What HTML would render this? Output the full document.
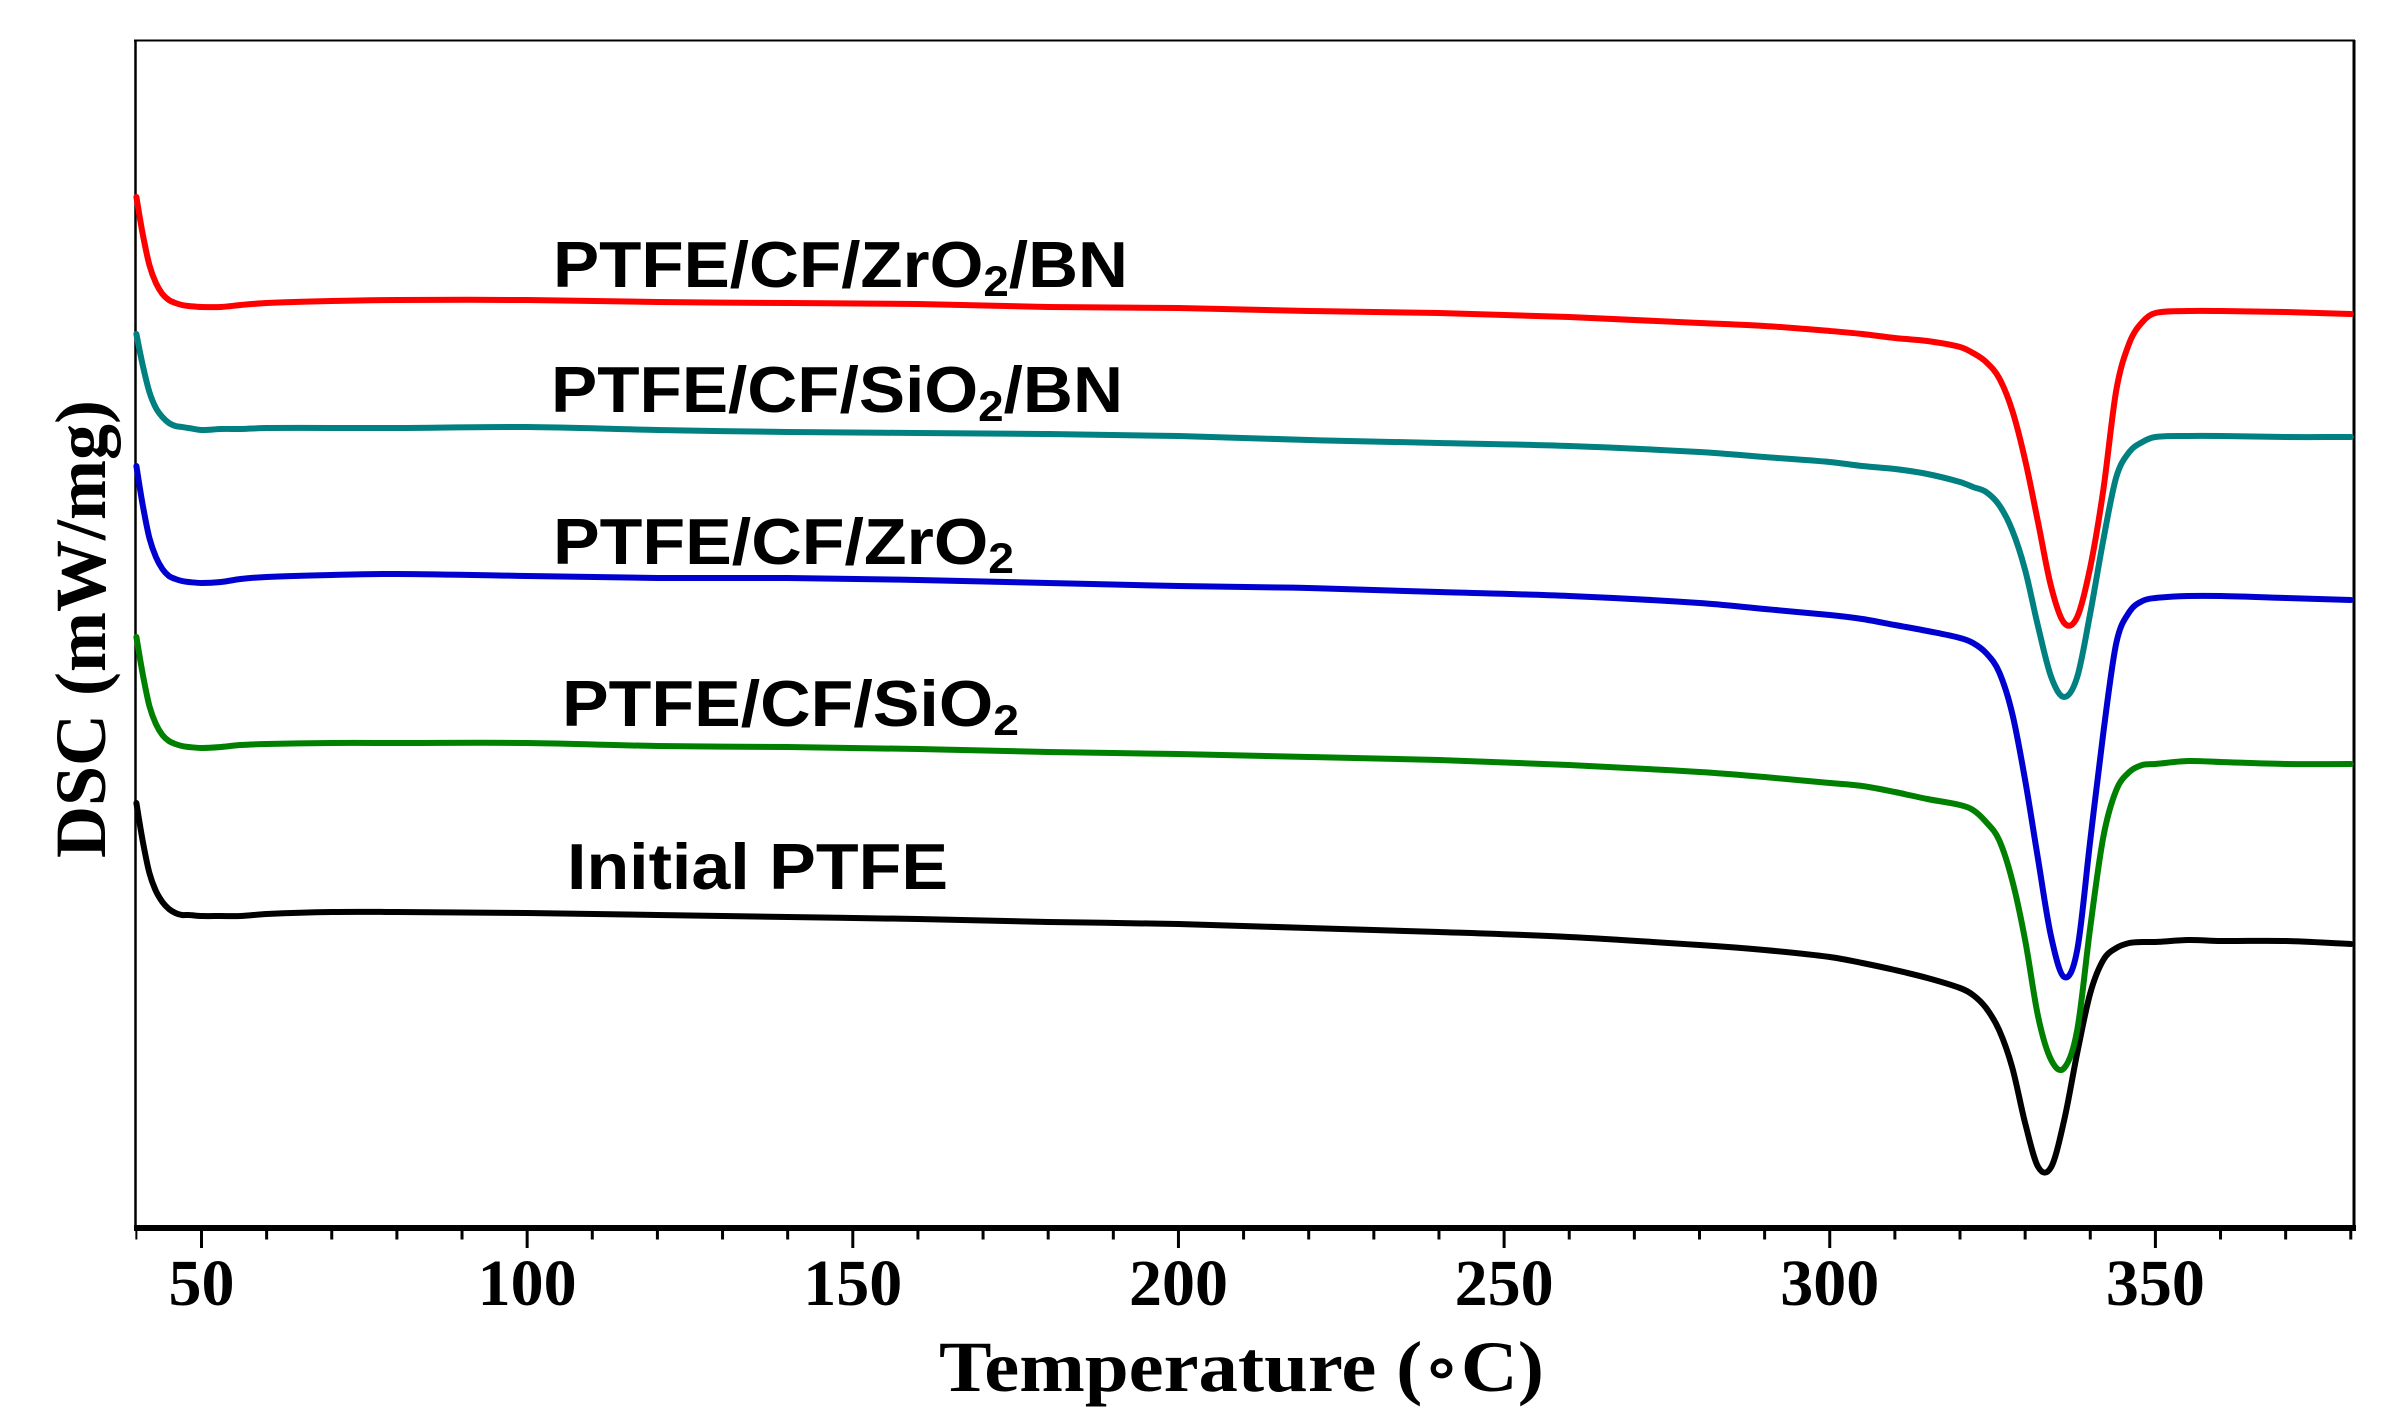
<!DOCTYPE html>
<html lang="en">
<head>
<meta charset="utf-8">
<title>DSC curves of PTFE composites</title>
<style>
html,body{margin:0;padding:0;background:#fff;width:2396px;height:1428px;overflow:hidden}
svg{display:block}
.tick{font:bold 66px "Liberation Serif",serif;fill:#000;text-anchor:middle}
.title{font:bold 72px "Liberation Serif","DejaVu Serif",serif;fill:#000}
.lab{font:bold 65px "Liberation Sans",sans-serif;fill:#000}
.lab tspan{font-size:43px}
</style>
</head>
<body>
<svg id="chart" xmlns="http://www.w3.org/2000/svg" width="2396" height="1428" viewBox="0 0 2396 1428">
  <rect x="0" y="0" width="2396" height="1428" fill="#fff"/>
  <line x1="135.5" y1="40" x2="135.5" y2="1228" stroke="#000" stroke-width="2.5"/>
  <line x1="134" y1="40.5" x2="2355" y2="40.5" stroke="#000" stroke-width="2"/>
  <line x1="2354" y1="40" x2="2354" y2="1228" stroke="#000" stroke-width="3"/>
  <line x1="134" y1="1228" x2="2356" y2="1228" stroke="#000" stroke-width="6"/>
  <g id="ticks"></g>
  <g id="curves"></g>

  <text class="lab" x="553" y="287" textLength="575" lengthAdjust="spacingAndGlyphs">PTFE/CF/ZrO<tspan dy="9">2</tspan><tspan dy="-9" style="font-size:65px">/BN</tspan></text>
  <text class="lab" x="551" y="412" textLength="572" lengthAdjust="spacingAndGlyphs">PTFE/CF/SiO<tspan dy="9">2</tspan><tspan dy="-9" style="font-size:65px">/BN</tspan></text>
  <text class="lab" x="553" y="564" textLength="461" lengthAdjust="spacingAndGlyphs">PTFE/CF/ZrO<tspan dy="9">2</tspan></text>
  <text class="lab" x="562" y="726" textLength="457" lengthAdjust="spacingAndGlyphs">PTFE/CF/SiO<tspan dy="9">2</tspan></text>
  <text class="lab" x="567" y="889" textLength="381" lengthAdjust="spacingAndGlyphs">Initial PTFE</text>

  <text class="title" x="939" y="1391" textLength="605" lengthAdjust="spacingAndGlyphs">Temperature (<tspan font-weight="normal">∘</tspan>C)</text>
  <text class="title" transform="translate(105,858) rotate(-90)" x="0" y="0" textLength="458" lengthAdjust="spacingAndGlyphs">DSC (mW/mg)</text>
</svg>
<script>
const temperatures = [40,41,42,43,44,45,46,47,48,50,53,56,60,70,80,100,120,140,160,180,200,220,240,260,280,290,300,305,310,315,320,322,324,326,328,330,332,334,336,338,340,342,344,346,348,350,355,360,370,380];
const dscInitial = [4.25,3.86,3.55,3.37,3.26,3.19,3.15,3.13,3.13,3.12,3.12,3.12,3.14,3.16,3.16,3.15,3.13,3.11,3.09,3.06,3.04,3.00,2.96,2.91,2.83,2.78,2.71,2.65,2.58,2.50,2.40,2.33,2.20,1.98,1.61,1.05,0.61,0.61,1.08,1.75,2.35,2.68,2.80,2.85,2.86,2.86,2.88,2.87,2.87,2.84];
const dscSiO2 = [5.91,5.53,5.22,5.04,4.93,4.87,4.84,4.82,4.81,4.80,4.81,4.83,4.84,4.85,4.85,4.85,4.82,4.81,4.79,4.76,4.74,4.71,4.68,4.63,4.56,4.51,4.45,4.42,4.36,4.29,4.23,4.18,4.06,3.88,3.48,2.88,2.11,1.68,1.60,1.98,3.01,3.91,4.38,4.56,4.63,4.64,4.67,4.66,4.64,4.64];
const dscZrO2 = [7.62,7.22,6.90,6.71,6.59,6.52,6.49,6.47,6.46,6.45,6.46,6.49,6.51,6.53,6.54,6.52,6.50,6.50,6.48,6.45,6.42,6.40,6.36,6.32,6.25,6.19,6.13,6.09,6.03,5.97,5.90,5.85,5.75,5.56,5.15,4.48,3.68,2.91,2.51,2.78,3.88,4.95,5.85,6.16,6.27,6.30,6.32,6.32,6.30,6.28];
const dscSiO2BN = [8.94,8.62,8.36,8.20,8.11,8.05,8.02,8.01,8.00,7.98,7.99,7.99,8.00,8.00,8.00,8.01,7.98,7.96,7.95,7.94,7.92,7.88,7.85,7.82,7.76,7.71,7.66,7.62,7.59,7.54,7.46,7.41,7.36,7.23,6.98,6.58,6.01,5.51,5.31,5.51,6.15,6.88,7.51,7.76,7.86,7.91,7.92,7.92,7.91,7.91];
const dscZrO2BN = [10.31,9.93,9.63,9.45,9.34,9.28,9.25,9.23,9.22,9.21,9.21,9.23,9.25,9.27,9.28,9.28,9.26,9.25,9.24,9.21,9.20,9.17,9.15,9.11,9.05,9.02,8.97,8.94,8.90,8.87,8.81,8.75,8.66,8.50,8.18,7.68,7.05,6.41,6.05,6.11,6.61,7.38,8.38,8.85,9.06,9.15,9.17,9.17,9.16,9.14];
const majorTicks = [50,100,150,200,250,300,350];
const minorTicks = [40,60,70,80,90,110,120,130,140,160,170,180,190,210,220,230,240,260,270,280,290,310,320,330,340,360,370,380];

const SVGNS = 'http://www.w3.org/2000/svg';
function xScale(t){ return 201.5 + (t - 50) * 6.513; }
function yScale(v){ return 1228 - v * 100; }

const tickGroup = document.getElementById('ticks');
minorTicks.forEach(function(t){
  const l = document.createElementNS(SVGNS,'line');
  
  
  l.setAttribute('x1', xScale(t)); l.setAttribute('x2', xScale(t));
  l.setAttribute('y1', 1230); l.setAttribute('y2', 1239.5);
  l.setAttribute('stroke', '#000');
  l.setAttribute('stroke-width', t === 40 ? 2 : 3);
  tickGroup.appendChild(l);
});
majorTicks.forEach(function(t){
  const l = document.createElementNS(SVGNS,'line');
  
  
  l.setAttribute('x1', xScale(t)); l.setAttribute('x2', xScale(t));
  l.setAttribute('y1', 1230); l.setAttribute('y2', 1248);
  l.setAttribute('stroke', '#000');
  l.setAttribute('stroke-width', 3);
  tickGroup.appendChild(l);
  const s = document.createElementNS(SVGNS,'text');
  
  
  s.setAttribute('class', 'tick');
  s.setAttribute('x', xScale(t));
  s.setAttribute('y', 1305);
  s.textContent = String(t);
  tickGroup.appendChild(s);
});

function smoothPath(xs, ys){
  const n = xs.length;
  let d = 'M' + xs[0].toFixed(1) + ' ' + ys[0].toFixed(1);
  const m = [];
  for (let i = 0; i < n; i++){
    if (i === 0) m.push((ys[1]-ys[0])/(xs[1]-xs[0]));
    else if (i === n-1) m.push((ys[n-1]-ys[n-2])/(xs[n-1]-xs[n-2]));
    else m.push((ys[i+1]-ys[i-1])/(xs[i+1]-xs[i-1]));
  }
  for (let i = 0; i < n-1; i++){
    const h = xs[i+1]-xs[i];
    d += 'C' + (xs[i]+h/3).toFixed(1) + ' ' + (ys[i]+m[i]*h/3).toFixed(1) + ' '
       + (xs[i+1]-h/3).toFixed(1) + ' ' + (ys[i+1]-m[i+1]*h/3).toFixed(1) + ' '
       + xs[i+1].toFixed(1) + ' ' + ys[i+1].toFixed(1);
  }
  return d;
}

const curveGroup = document.getElementById('curves');
function drawCurve(values, colour, name){
  const p = document.createElementNS(SVGNS,'path');
  
  
  p.setAttribute('d', smoothPath(temperatures.map(xScale), values.map(yScale)));
  p.setAttribute('fill', 'none');
  p.setAttribute('stroke', colour);
  p.setAttribute('stroke-width', 6);
  p.setAttribute('stroke-linejoin', 'round');
  p.setAttribute('stroke-linecap', 'round');
  curveGroup.appendChild(p);
}
drawCurve(dscInitial, '#000000', 'curve-initial-ptfe');
drawCurve(dscSiO2, '#008000', 'curve-ptfe-cf-sio2');
drawCurve(dscZrO2, '#0000d0', 'curve-ptfe-cf-zro2');
drawCurve(dscSiO2BN, '#008080', 'curve-ptfe-cf-sio2-bn');
drawCurve(dscZrO2BN, '#ff0000', 'curve-ptfe-cf-zro2-bn');
</script>
</body>
</html>
